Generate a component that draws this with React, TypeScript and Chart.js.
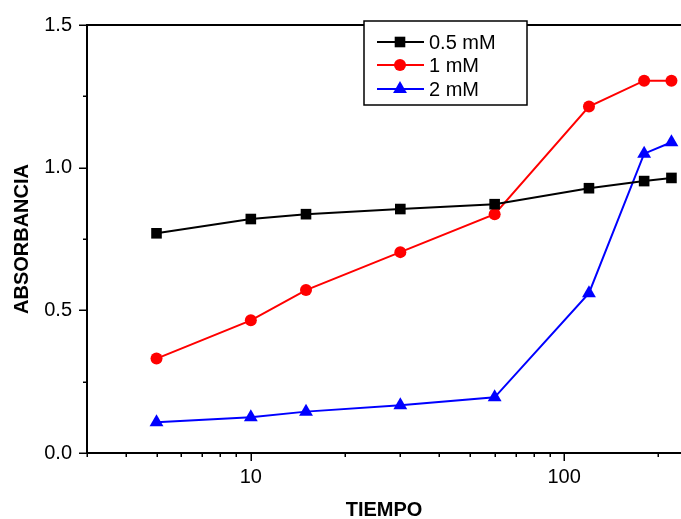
import React, { useEffect, useRef } from 'react';
import { Chart, registerables } from 'chart.js';

Chart.register(...registerables);

const times = [5, 10, 15, 30, 60, 120, 180, 220];
const abs05 = [0.770, 0.820, 0.837, 0.855, 0.872, 0.928, 0.953, 0.964];
const abs1 = [0.331, 0.465, 0.571, 0.704, 0.837, 1.214, 1.305, 1.305];
const abs2 = [0.108, 0.125, 0.145, 0.167, 0.195, 0.560, 1.049, 1.089];
const seriesLabels = ['0.5 mM', '1 mM', '2 mM'];
const xLabelled = [10, 100];
const xTitle = 'TIEMPO';
const yTitle = 'ABSORBANCIA';

const FONT = "'Liberation Sans', Arial, sans-serif";

function drawMarker(ctx: CanvasRenderingContext2D, style: string, x: number, y: number, r: number, color: string) {
  ctx.fillStyle = color;
  ctx.beginPath();
  if (style === 'rect') {
    const s = Math.SQRT1_2 * r;
    ctx.rect(x - s, y - s, 2 * s, 2 * s);
  } else if (style === 'circle') {
    ctx.arc(x, y, r, 0, Math.PI * 2);
  } else {
    const a = -Math.PI / 2;
    for (let i = 0; i < 3; i++) {
      const ang = a + (i * 2 * Math.PI) / 3;
      const px = x + r * Math.cos(ang);
      const py = y + r * Math.sin(ang);
      if (i === 0) ctx.moveTo(px, py); else ctx.lineTo(px, py);
    }
    ctx.closePath();
  }
  ctx.fill();
}

const decorPlugin = {
  id: 'decor',
  afterDraw(chart: any) {
    const ctx: CanvasRenderingContext2D = chart.ctx;
    const { left, top, bottom } = chart.chartArea;
    const xs = chart.scales.x;
    const ys = chart.scales.y;
    ctx.save();
    ctx.strokeStyle = '#000';
    // top frame
    ctx.lineWidth = 2;
    ctx.beginPath();
    ctx.moveTo(left - 1, top);
    ctx.lineTo(chart.width, top);
    ctx.stroke();
    // x ticks
    ctx.lineWidth = 1.5;
    xs.ticks.forEach((t: any) => {
      const v = t.value;
      const p = Math.pow(10, Math.floor(Math.log10(v) + 1e-9));
      const s = v / p;
      if (Math.abs(s - Math.round(s)) > 1e-6) return;
      const px = Math.round(xs.getPixelForValue(v)) + 0.25;
      const len = xLabelled.includes(v) ? 8 : 4;
      ctx.beginPath();
      ctx.moveTo(px, bottom);
      ctx.lineTo(px, bottom + len);
      ctx.stroke();
    });
    // y ticks
    ys.ticks.forEach((t: any) => {
      const v = t.value;
      const py = Math.round(ys.getPixelForValue(v)) + 0.25;
      const major = Math.abs(v * 2 - Math.round(v * 2)) < 1e-6;
      const len = major ? 8 : 4;
      ctx.beginPath();
      ctx.moveTo(left, py);
      ctx.lineTo(left - len, py);
      ctx.stroke();
    });
    // legend
    const bx = 364, by = 21, bw = 163, bh = 84;
    ctx.fillStyle = '#fff';
    ctx.fillRect(bx, by, bw, bh);
    ctx.lineWidth = 1.5;
    ctx.strokeStyle = '#000';
    ctx.strokeRect(bx, by, bw, bh);
    const rowsY = [42, 65, 89];
    ctx.font = `20px ${FONT}`;
    ctx.textBaseline = 'middle';
    ctx.textAlign = 'left';
    chart.data.datasets.forEach((ds: any, i: number) => {
      const y = rowsY[i];
      ctx.strokeStyle = ds.borderColor;
      ctx.lineWidth = 2;
      ctx.beginPath();
      ctx.moveTo(377, y);
      ctx.lineTo(424, y);
      ctx.stroke();
      drawMarker(ctx, ds.pointStyle, 400, y, ds.pointRadius, ds.backgroundColor);
      ctx.fillStyle = '#000';
      ctx.fillText(ds.label, 429, y + 1);
    });
    ctx.restore();
  },
};

export default function App() {
  const ref = useRef<HTMLCanvasElement | null>(null);
  useEffect(() => {
    if (!ref.current) return;
    const mk = (label: string, data: number[], color: string, style: string, r: number) => ({
      label,
      data: times.map((t, i) => ({ x: t, y: data[i] })),
      borderColor: color,
      backgroundColor: color,
      pointBackgroundColor: color,
      pointBorderColor: color,
      pointBorderWidth: 0,
      borderWidth: 2,
      pointStyle: style,
      pointRadius: r,
      tension: 0,
      clip: false,
    });
    const chart = new Chart(ref.current, {
      type: 'line',
      data: {
        datasets: [
          mk(seriesLabels[0], abs05, '#000000', 'rect', 7.5),
          mk(seriesLabels[1], abs1, '#ff0000', 'circle', 6),
          mk(seriesLabels[2], abs2, '#0000ff', 'triangle', 8),
        ],
      },
      options: {
        animation: false,
        responsive: false,
        devicePixelRatio: 1,
        layout: { autoPadding: false, padding: { top: 25, right: 0, left: 0, bottom: 0 } },
        plugins: { legend: { display: false }, tooltip: { enabled: false } },
        scales: {
          x: {
            type: 'logarithmic',
            min: 3,
            max: 236,
            grid: { display: false, drawTicks: false },
            border: { display: true, color: '#000', width: 2 },
            ticks: {
              autoSkip: false,
              maxRotation: 0,
              padding: 12,
              color: '#000',
              font: { family: FONT, size: 20 },
              callback: (v: any) => (xLabelled.includes(Number(v)) ? String(v) : ''),
            },
            title: {
              display: true,
              text: xTitle,
              color: '#000',
              font: { family: FONT, size: 20, weight: 'bold', lineHeight: 1 },
              padding: { top: 0, bottom: -1 },
            },
            afterFit: (s: any) => {
              s.height = 66;
              s.paddingLeft = 0;
              s.paddingRight = 0;
            },
          },
          y: {
            type: 'linear',
            min: 0,
            max: 1.5,
            grid: { display: false, drawTicks: false },
            border: { display: true, color: '#000', width: 2 },
            ticks: {
              stepSize: 0.25,
              padding: 15,
              color: '#000',
              font: { family: FONT, size: 20 },
              callback: (v: any) => {
                const n = Number(v);
                return Math.abs(n * 2 - Math.round(n * 2)) < 1e-6 ? n.toFixed(1) : '';
              },
            },
            title: {
              display: true,
              text: yTitle,
              color: '#000',
              font: { family: FONT, size: 20, weight: 'bold', lineHeight: 1 },
              padding: { top: 12, bottom: 0 },
            },
            afterFit: (s: any) => {
              s.width = 87;
              s.paddingTop = 0;
              s.paddingBottom = 0;
            },
          },
        },
      } as any,
      plugins: [decorPlugin],
    });
    return () => chart.destroy();
  }, []);
  return (
    <div style={{ position: 'fixed', left: 0, top: 0, width: 681, height: 519, background: '#fff', overflow: 'hidden' }}>
      <canvas ref={ref} width={681} height={519} style={{ display: 'block' }} />
    </div>
  );
}
